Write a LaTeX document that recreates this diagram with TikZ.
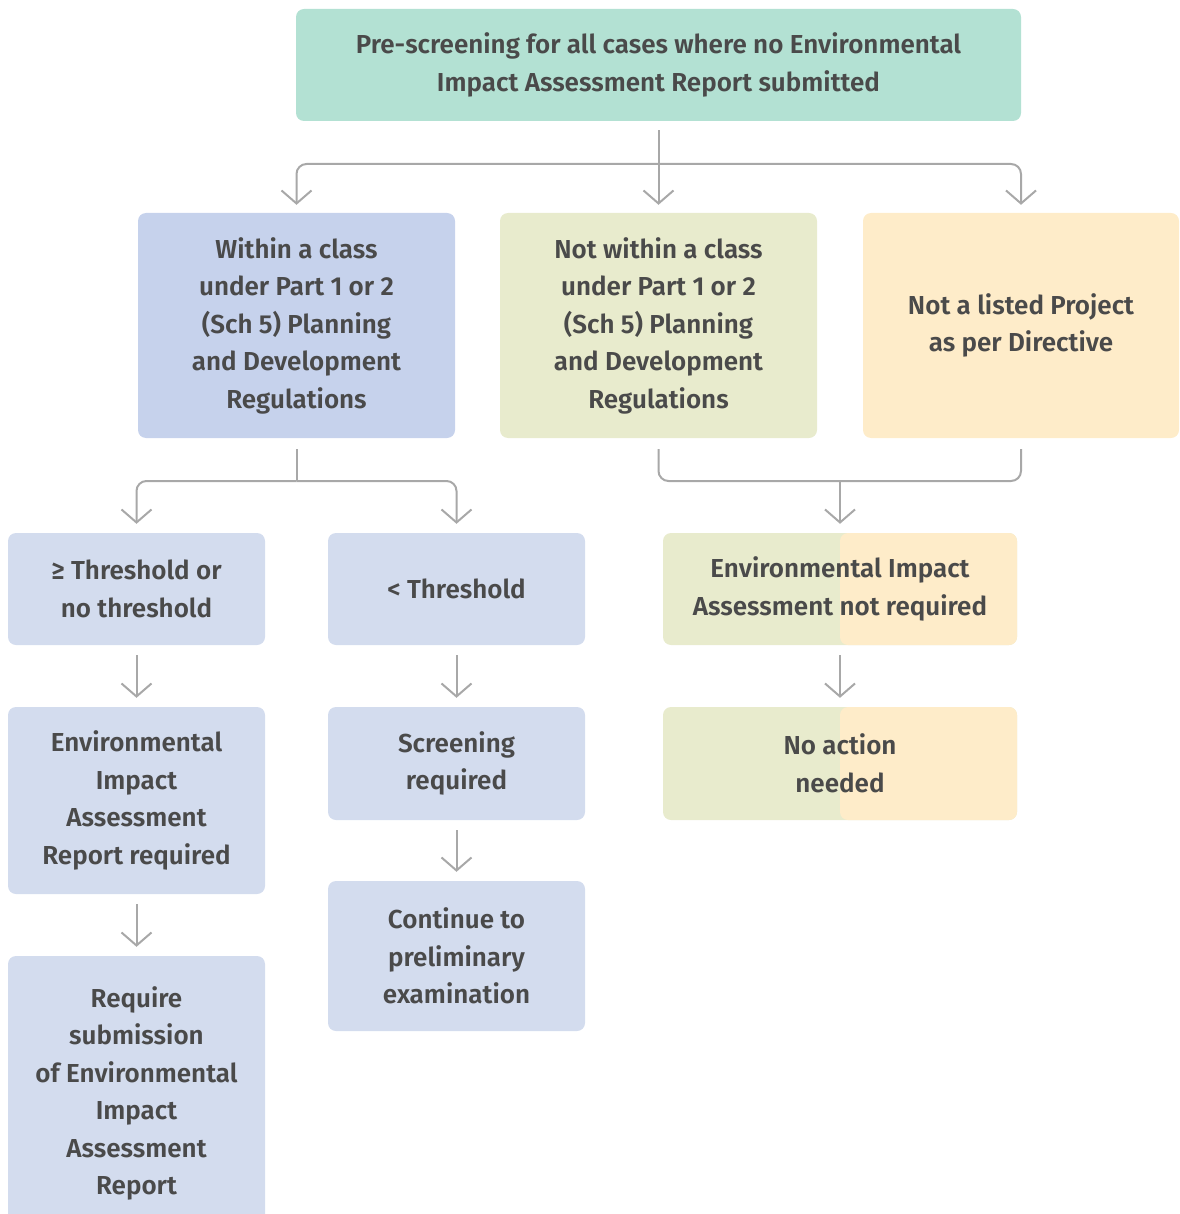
\documentclass[tikz,border=0pt]{standalone}
\usepackage{fontspec}
\setmainfont{Fira Sans}[UprightFont={* SemiBold}]
\usetikzlibrary{arrows.meta}
\definecolor{mint}{HTML}{B3E1D3}
\definecolor{bluea}{HTML}{C6D2EC}
\definecolor{blueb}{HTML}{D3DCEE}
\definecolor{greena}{HTML}{E8EBCD}
\definecolor{yellowa}{HTML}{FEECC9}
\definecolor{txt}{HTML}{4A4A4A}
\definecolor{conncol}{HTML}{A8A8A8}
\tikzset{
  box/.style={rounded corners=8pt, inner sep=0pt, align=center, text=txt,
    font=\fontsize{26}{37.5}\selectfont},
  split/.style={box, fill=greena, path picture={
    \fill[yellowa] (path picture bounding box.north) rectangle ([xshift=2pt]path picture bounding box.south east);}},
  ln/.style={draw=conncol, line width=2pt, rounded corners=10pt},
  arr/.style={ln, -{Straight Barb[length=13pt,width=30pt,line width=2pt]}},
}
\begin{document}
\begin{tikzpicture}[x=1pt,y=-1pt]
\useasboundingbox (0,0) rectangle (1179,1214);
\clip (0,0) rectangle (1179,1214);
\node[box, fill=mint, minimum width=725pt, minimum height=112pt] (top) at (658.5,65)
  {Pre-screening for all cases where no Environmental\\Impact Assessment Report submitted};
\node[box, fill=bluea, minimum width=317pt, minimum height=225pt] (blue) at (296.5,325.5)
  {Within a class\\under Part 1 or 2\\(Sch 5) Planning\\and Development\\Regulations};
\node[box, fill=greena, minimum width=317pt, minimum height=225pt] (green) at (658.5,325.5)
  {Not within a class\\under Part 1 or 2\\(Sch 5) Planning\\and Development\\Regulations};
\node[box, fill=yellowa, minimum width=316pt, minimum height=225pt] (yellow) at (1021,325.5)
  {Not a listed Project\\as per Directive};
\node[box, fill=blueb, minimum width=257pt, minimum height=112pt] (r2l) at (136.5,589)
  {≥ Threshold or\\no threshold};
\node[box, fill=blueb, minimum width=257pt, minimum height=112pt] (r2m) at (456.5,589)
  {< Threshold};
\node[split, minimum width=354pt, minimum height=112pt] (r2r) at (840,589)
  {Environmental Impact\\Assessment not required};
\node[box, fill=blueb, minimum width=257pt, minimum height=187pt] (r3l) at (136.5,800.5)
  {Environmental\\Impact\\Assessment\\Report required};
\node[box, fill=blueb, minimum width=257pt, minimum height=113pt] (r3m) at (456.5,763.5)
  {Screening\\required};
\node[split, minimum width=354pt, minimum height=113pt] (r3r) at (840,763.5)
  {No action\\needed};
\node[box, fill=blueb, minimum width=257pt, minimum height=275pt] (r4l) at (136.5,1093.5)
  {Require\\submission\\of Environmental\\Impact\\Assessment\\Report};
\node[box, fill=blueb, minimum width=257pt, minimum height=150pt] (r4m) at (456.5,956)
  {Continue to\\preliminary\\examination};
% connectors
\coordinate (j1) at (658.5,164);
\draw[arr, shorten <=9pt, shorten >=8pt] (top.south) -- (green.north);
\draw[arr, shorten >=8pt] (j1) -| (blue.north);
\draw[arr, shorten >=8pt] (j1) -| (yellow.north);
\coordinate (j2) at (296.5,481);
\draw[ln, shorten <=11pt] (blue.south) -- (j2);
\draw[arr, shorten >=9pt] (j2) -| (r2l.north);
\draw[arr, shorten >=9pt] (j2) -| (r2m.north);
\coordinate (j3) at (840,481);
\draw[ln, shorten <=11pt, shorten >=11pt] (green.south) |- (j3) -| (yellow.south);
\draw[arr, shorten >=9pt] (j3) -- (r2r.north);
\draw[arr, shorten <=10pt, shorten >=9pt] (r2l) -- (r3l);
\draw[arr, shorten <=10pt, shorten >=9pt] (r2m) -- (r3m);
\draw[arr, shorten <=10pt, shorten >=9pt] (r2r) -- (r3r);
\draw[arr, shorten <=10pt, shorten >=9pt] (r3l) -- (r4l);
\draw[arr, shorten <=10pt, shorten >=9pt] (r3m) -- (r4m);
\end{tikzpicture}
\end{document}
